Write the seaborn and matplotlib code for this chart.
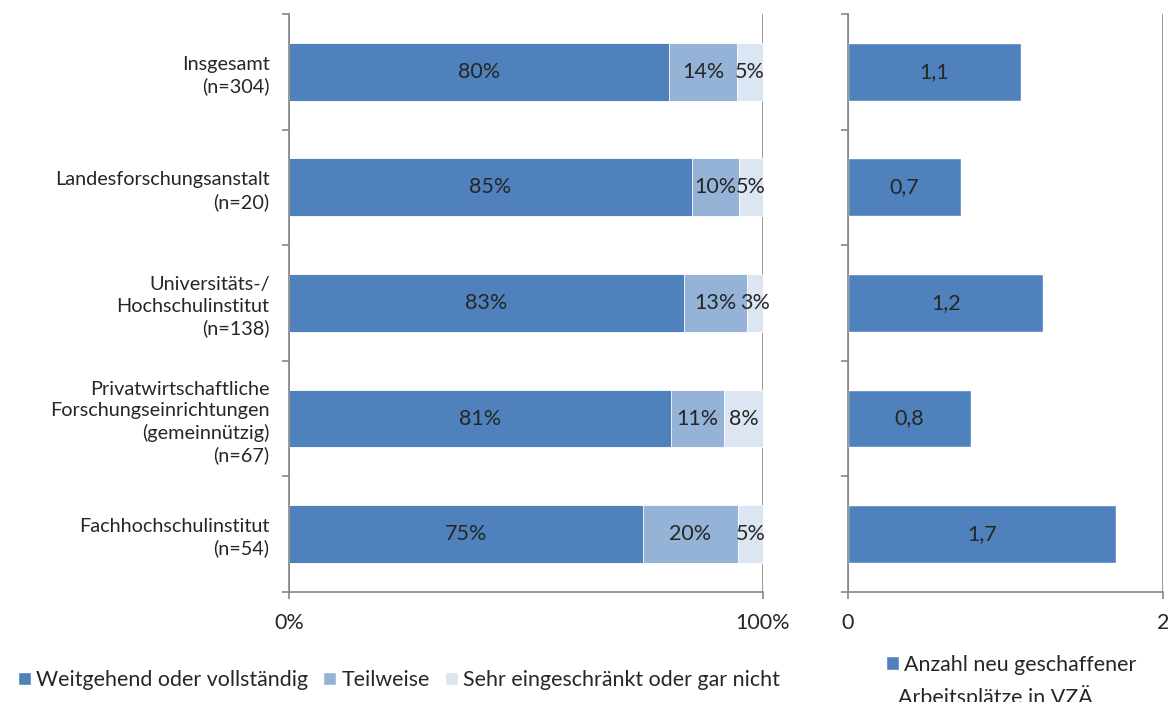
import numpy as np
import pandas as pd
import seaborn as sns
import matplotlib.pyplot as plt
from matplotlib.patches import Patch

# chart data
categories = [
    "Insgesamt\n(n=304)",
    "Landesforschungsanstalt\n(n=20)",
    "Universitäts-/\nHochschulinstitut\n(n=138)",
    "Privatwirtschaftliche\nForschungseinrichtungen\n(gemeinnützig)\n(n=67)",
    "Fachhochschulinstitut\n(n=54)",
]
weitgehend = [80.2, 85.0, 83.3, 80.6, 74.6]
teilweise = [14.4, 9.9, 13.3, 11.2, 20.1]
eingeschraenkt = [5.4, 5.1, 3.4, 8.2, 5.3]
arbeitsplaetze = [1.1, 0.72, 1.24, 0.78, 1.7]

series_names = ["Weitgehend oder vollständig", "Teilweise", "Sehr eingeschränkt oder gar nicht"]
series_colors = ["#4F81BD", "#95B3D7", "#DCE6F2"]
pct_ticks = [0, 100]
pct_tick_labels = ["0%", "100%"]
count_ticks = [0, 2]
count_tick_labels = ["0", "2"]
count_label = "Anzahl neu geschaffener"
count_label_2 = "Arbeitsplätze in VZÄ"

sns.set_style("white")
plt.rcParams["font.family"] = ["Lato", "DejaVu Sans"]
FS = 14.3      # category labels
FS_VAL = 15.5  # bar values, x ticks
FS_LEG = 15.4
GRAY = "#868686"

df = pd.DataFrame({"cat": categories, "w": weitgehend, "t": teilweise, "e": eingeschraenkt})
df["c1"] = df["w"]
df["c2"] = df["w"] + df["t"]
df["c3"] = df["c2"] + df["e"]

fig = plt.figure(figsize=(11.68, 7.02), dpi=100)
ax = fig.add_axes([0.2474, 0.1567, 0.4058, 0.8234])
ax2 = fig.add_axes([0.7260, 0.1567, 0.2697, 0.8234])

# stacked bars: draw cumulative totals from largest to smallest
for col, color in zip(["c3", "c2", "c1"], series_colors[::-1]):
    sns.barplot(data=df, x=col, y="cat", color=color, orient="h", width=0.5,
                edgecolor="white", linewidth=0.6, ax=ax, saturation=1)

for i, row in df.iterrows():
    start = 0
    for col in ["w", "t", "e"]:
        v = row[col]
        ax.text(start + v / 2, i, f"{v:.0f}%", ha="center", va="center", fontsize=FS_VAL)
        start += v

sns.barplot(x=arbeitsplaetze, y=categories, color=series_colors[0], orient="h",
            width=0.5, ax=ax2, saturation=1)
for i, v in enumerate(arbeitsplaetze):
    ax2.text(v / 2, i, f"{v:.1f}".replace(".", ","), ha="center", va="center", fontsize=FS_VAL)

for a, lim, ticks, labels in [(ax, 100, pct_ticks, pct_tick_labels),
                              (ax2, 2, count_ticks, count_tick_labels)]:
    a.set_xlim(0, lim)
    a.set_ylim(len(categories) - 0.5, -0.5)
    a.set_xticks(ticks)
    a.set_xticklabels(labels)
    a.set_xlabel("")
    a.set_ylabel("")
    a.set_yticks(np.arange(-0.5, len(categories), 1), minor=True)
    a.tick_params(axis="y", which="minor", left=True, length=5, width=1.2, color=GRAY)
    a.tick_params(axis="y", which="major", length=0, pad=14, labelsize=FS)
    a.tick_params(axis="x", which="major", bottom=True, length=5, width=1.2, color=GRAY,
                  pad=10, labelsize=FS_VAL)
    a.xaxis.grid(True, color=GRAY, linewidth=1.2)
    a.set_axisbelow(True)
    for s in ["top", "right"]:
        a.spines[s].set_visible(False)
    for s in ["left", "bottom"]:
        a.spines[s].set_color(GRAY)
        a.spines[s].set_linewidth(1.2)

for lab in ax.get_yticklabels():
    lab.set_linespacing(1.3)
ax2.tick_params(axis="y", which="major", labelleft=False)

fig.legend(handles=[Patch(facecolor=c, label=n) for n, c in zip(series_names, series_colors)],
           loc="center left", bbox_to_anchor=(0.008, 0.031), ncol=3, frameon=False,
           handlelength=0.6, handleheight=0.6, handletextpad=0.25, columnspacing=0.7,
           fontsize=FS_LEG, borderaxespad=0)
fig.legend(handles=[Patch(facecolor=series_colors[0], label=count_label)],
           loc="center left", bbox_to_anchor=(0.751, 0.053), frameon=False,
           handlelength=0.6, handleheight=0.6, handletextpad=0.25,
           fontsize=FS_LEG, borderaxespad=0)
fig.text(0.769, -0.003, count_label_2, ha="left", va="baseline", fontsize=FS_LEG)

fig.savefig("out.png", dpi=100)
